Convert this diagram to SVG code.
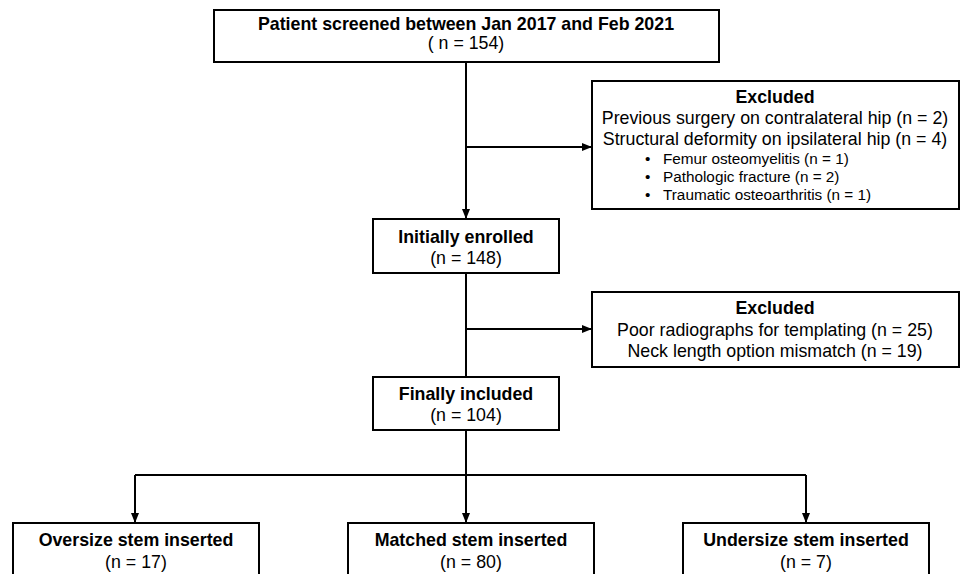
<svg xmlns="http://www.w3.org/2000/svg" width="961" height="574" viewBox="0 0 961 574">
<style>
.box{fill:#fff;stroke:#000;stroke-width:2}
.t{font-family:"Liberation Sans",Arial,sans-serif;font-size:17.8px;fill:#000;text-anchor:middle}
.b{font-weight:bold}
.s{font-family:"Liberation Sans",Arial,sans-serif;font-size:15.3px;fill:#000}
.c{fill:none;stroke:#000;stroke-width:2}
</style>
<defs>
<marker id="ah" viewBox="0 0 10 10" refX="10" refY="5" markerWidth="10" markerHeight="10" markerUnits="userSpaceOnUse" orient="auto">
<path d="M0,1 L10,5 L0,9 Z" fill="#000"/>
</marker>
</defs>
<rect width="961" height="574" fill="#fff"/>
<g id="connectors">
<path class="c" d="M466,62 V219" marker-end="url(#ah)"/>
<path class="c" d="M466,147 H592" marker-end="url(#ah)"/>
<path class="c" d="M466,273 V377"/>
<path class="c" d="M466,329 H592" marker-end="url(#ah)"/>
<path class="c" d="M466,430 V475"/>
<path class="c" d="M135,475 H806"/>
<path class="c" d="M135,475 V523" marker-end="url(#ah)"/>
<path class="c" d="M466,475 V523" marker-end="url(#ah)"/>
<path class="c" d="M806,475 V523" marker-end="url(#ah)"/>
</g>
<g id="screened">
<rect class="box" x="214" y="10" width="505" height="52"/>
<text class="t b" x="466" y="30">Patient screened between Jan 2017 and Feb 2021</text>
<text class="t" x="466" y="49">( n = 154)</text>
</g>
<g id="excluded1">
<rect class="box" x="592" y="81" width="367" height="128"/>
<text class="t b" x="775" y="103">Excluded</text>
<text class="t" x="775" y="124">Previous surgery on contralateral hip (n = 2)</text>
<text class="t" x="775" y="145">Structural deformity on ipsilateral hip (n = 4)</text>
<text class="s" x="645" y="164">•</text>
<text class="s" x="663" y="164">Femur osteomyelitis (n = 1)</text>
<text class="s" x="645" y="182">•</text>
<text class="s" x="663" y="182">Pathologic fracture (n = 2)</text>
<text class="s" x="645" y="200">•</text>
<text class="s" x="663" y="200">Traumatic osteoarthritis (n = 1)</text>
</g>
<g id="enrolled">
<rect class="box" x="373" y="219" width="186" height="54"/>
<text class="t b" x="466" y="243">Initially enrolled</text>
<text class="t" x="466" y="264">(n = 148)</text>
</g>
<g id="excluded2">
<rect class="box" x="592" y="292" width="367" height="75"/>
<text class="t b" x="775" y="314">Excluded</text>
<text class="t" x="775" y="336">Poor radiographs for templating (n = 25)</text>
<text class="t" x="775" y="357">Neck length option mismatch (n = 19)</text>
</g>
<g id="included">
<rect class="box" x="373" y="377" width="186" height="53"/>
<text class="t b" x="466" y="400">Finally included</text>
<text class="t" x="466" y="421">(n = 104)</text>
</g>
<g id="oversize">
<rect class="box" x="13" y="523" width="246" height="60"/>
<text class="t b" x="136" y="546">Oversize stem inserted</text>
<text class="t" x="136" y="568">(n = 17)</text>
</g>
<g id="matched">
<rect class="box" x="348" y="523" width="246" height="60"/>
<text class="t b" x="471" y="546">Matched stem inserted</text>
<text class="t" x="471" y="568">(n = 80)</text>
</g>
<g id="undersize">
<rect class="box" x="683" y="523" width="246" height="60"/>
<text class="t b" x="806" y="546">Undersize stem inserted</text>
<text class="t" x="806" y="568">(n = 7)</text>
</g>
</svg>
